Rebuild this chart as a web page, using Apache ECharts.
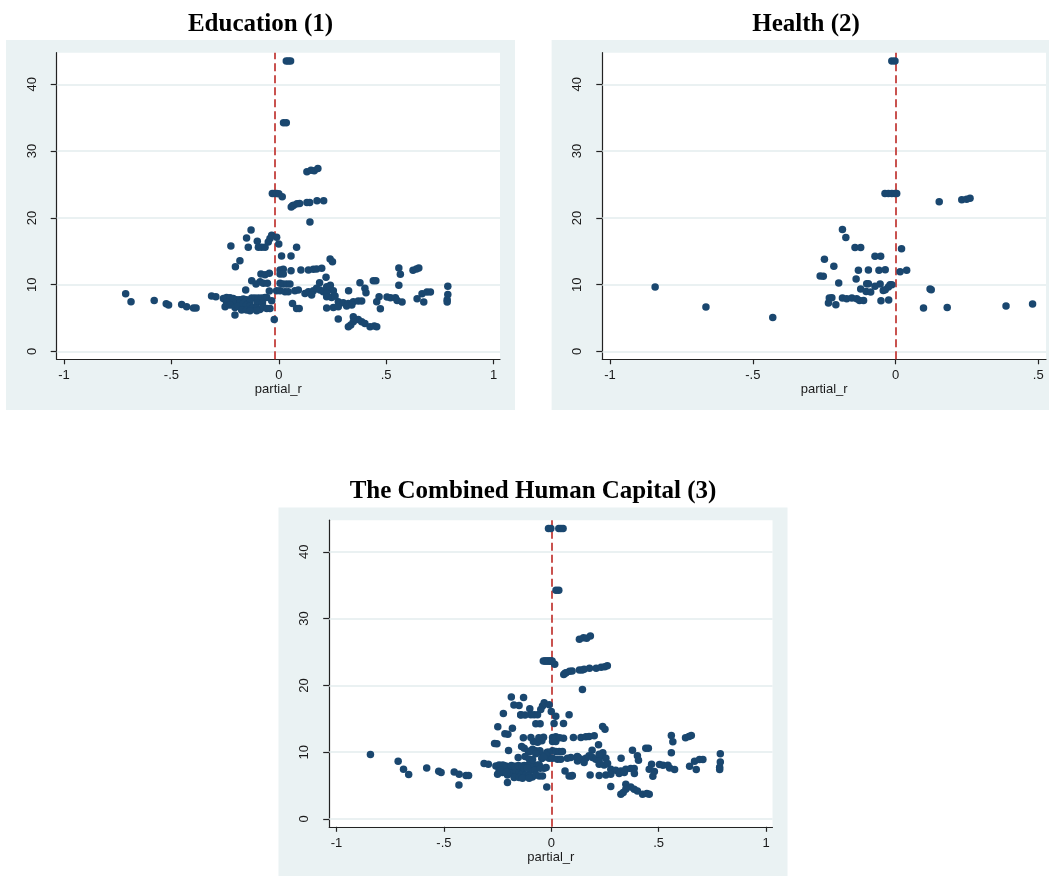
<!DOCTYPE html>
<html>
<head>
<meta charset="utf-8">
<script src="https://cdn.jsdelivr.net/npm/echarts@6/dist/echarts.min.js"></script>
<style>
html,body{margin:0;padding:0;background:#fff;}
#c{width:1049px;height:876px;}
</style>
</head>
<body>
<div id="c"></div>
<script>
// ---- data ----
const panelTitles = ['Education (1)', 'Health (2)', 'The Combined Human Capital (3)'];
const xTicksWide = [-1, -0.5, 0, 0.5, 1];
const xTicksHealth = [-1, -0.5, 0, 0.5];
const yTicks = [0, 10, 20, 30, 40];
const refLineX = [-0.016, 0, 0];

const educationPoints = [
  [0.035,43.5],[0.045,43.5],[0.055,43.5],
  [0.022,34.25],[0.035,34.25],
  [0.131,26.9],[0.15,27.15],[0.165,27.05],[0.182,27.4],
  [-0.03,23.65],[-0.02,23.65],[-0.01,23.65],[0.0,23.6],[0.016,23.15],
  [0.058,21.65],[0.064,21.8],[0.069,21.9],[0.085,22.1],[0.097,22.15],[0.131,22.3],[0.144,22.3],[0.178,22.55],[0.209,22.55],
  [0.145,19.4],
  [-0.129,18.2],[-0.15,17.0],[-0.033,17.4],[-0.041,16.9],[-0.1,16.5],[-0.049,16.4],[-0.01,17.1],[0.0,16.1],
  [-0.223,15.8],[-0.142,15.6],[-0.095,15.6],[-0.08,15.6],[-0.064,15.6],[0.083,15.6],
  [0.013,14.3],[0.057,14.3],
  [-0.181,13.6],[-0.202,12.7],[0.239,13.85],[0.25,13.45],
  [-0.083,11.6],[-0.064,11.5],[-0.044,11.7],[0.006,12.2],[0.021,12.3],[0.006,11.6],[0.021,11.6],[0.057,12.1],[0.103,12.2],[0.138,12.2],[0.161,12.3],[0.176,12.35],[0.2,12.45],
  [0.22,11.1],
  [0.559,12.5],[0.566,11.55],[0.625,12.15],[0.641,12.35],[0.652,12.5],
  [-0.126,10.6],[-0.106,10.1],[-0.087,10.45],[-0.072,10.2],[-0.053,10.2],[0.006,10.2],[0.021,10.1],[0.037,10.1],[0.052,10.1],[0.19,10.3],[0.24,9.9],
  [0.378,10.3],[0.44,10.6],[0.452,10.6],[0.559,9.9],[0.787,9.75],
  [-0.154,9.2],[-0.044,9.05],[-0.01,9.1],[0.006,9.1],[0.029,8.95],[0.044,8.95],[0.075,9.1],[0.091,9.2],
  [0.122,8.7],[0.138,8.95],[0.161,9.1],[0.176,9.45],[0.192,9.2],[0.207,8.95],[0.223,9.7],[0.238,9.45],[0.254,9.1],[0.223,8.7],
  [0.153,8.45],[0.223,8.2],[0.246,8.1],[0.262,8.3],
  [0.325,9.1],[0.401,9.45],[0.406,8.8],
  [0.667,8.65],[0.69,8.9],[0.706,8.9],[0.787,8.55],
  [-0.713,8.65],[-0.313,8.3],[-0.293,8.2],
  [-0.258,7.95],[-0.243,8.1],[-0.227,8.05],[-0.212,7.95],[-0.196,7.75],[-0.181,7.75],[-0.165,7.85],[-0.15,7.75],[-0.126,8.0],[-0.111,8.0],[-0.095,8.0],[-0.08,8.0],[-0.064,8.1],[-0.056,8.1],
  [-0.243,7.35],[-0.212,7.3],[-0.181,7.3],[-0.134,7.45],[-0.1,7.3],[-0.076,7.3],
  [-0.033,7.6],
  [0.504,8.15],[0.52,8.05],[0.543,8.05],[0.551,7.65],[0.467,8.2],
  [0.644,7.9],[0.784,7.75],
  [-0.688,7.45],[-0.58,7.65],[-0.524,7.15],[-0.513,6.95],[-0.452,7.05],[-0.429,6.7],[-0.397,6.5],[-0.385,6.5],
  [-0.25,6.7],[-0.227,6.95],[-0.204,6.6],[-0.188,6.8],
  [-0.165,7.2],[-0.15,6.95],[-0.134,6.8],[-0.119,6.6],[-0.103,6.45],[-0.088,6.3],[-0.072,6.6],[-0.056,6.45],[-0.041,6.45],
  [-0.173,6.2],[-0.15,6.2],[-0.134,6.1],[-0.103,6.1],
  [-0.204,5.45],[-0.021,4.8],
  [0.064,7.2],[0.083,6.45],[0.095,6.45],
  [0.277,7.45],[0.3,7.3],[0.324,7.2],[0.347,7.45],[0.37,7.55],[0.386,7.55],[0.456,7.45],
  [0.223,6.5],[0.254,6.6],[0.277,6.7],[0.316,6.8],[0.34,6.95],
  [0.473,6.4],[0.574,7.4],[0.675,7.4],[0.784,7.4],
  [0.277,4.85],[0.347,5.2],[0.37,4.8],[0.386,4.45],[0.401,4.2],[0.347,4.45],
  [0.324,3.7],[0.335,3.95],[0.425,3.7],[0.445,3.8],[0.456,3.7]
];

const healthPoints = [
  [-0.013,43.5],[-0.002,43.5],
  [-0.037,23.65],[-0.025,23.65],[-0.013,23.65],[-0.002,23.65],[0.004,23.65],
  [0.153,22.4],[0.232,22.7],[0.249,22.8],[0.261,22.95],
  [-0.186,18.25],[-0.174,17.05],[-0.142,15.55],[-0.122,15.55],[0.021,15.4],
  [-0.072,14.25],[-0.052,14.25],[-0.249,13.8],[-0.216,12.75],
  [-0.13,12.15],[-0.095,12.2],[-0.058,12.15],[-0.036,12.25],[0.016,11.95],[0.039,12.15],
  [-0.264,11.3],[-0.253,11.25],[-0.138,10.85],[-0.199,10.25],
  [-0.101,10.15],[-0.095,10.15],[-0.054,10.1],[-0.072,9.75],[-0.019,10.0],[-0.013,10.0],[-0.025,9.65],
  [-0.122,9.35],[-0.103,9.0],[-0.087,8.9],[-0.043,9.15],[-0.036,9.25],
  [0.121,9.35],[0.125,9.25],
  [-0.842,9.65],
  [-0.232,8.0],[-0.223,8.05],[-0.235,7.25],
  [-0.186,8.0],[-0.171,7.9],[-0.153,8.0],[-0.136,7.9],[-0.126,7.65],[-0.112,7.65],
  [-0.209,7.0],[-0.051,7.6],[-0.024,7.7],
  [-0.664,6.65],[-0.43,5.1],[0.098,6.5],[0.181,6.6],[0.387,6.8],[0.48,7.1]
];

// the combined sample pools both groups of observations
const combinedPoints = educationPoints.concat(healthPoints);

// ---- styling / layout ----
const BG = '#EAF2F3';
const GRID_LINE = '#E3ECEE';
const MARKER = '#1A476F';
const REF = '#C9524F';
const TXT = '#1a1a1a';
const FONT = 'Liberation Sans';

const grids = [
  {left: 56.7, top: 52.7, width: 443.3, height: 306.6},
  {left: 602.3, top: 52.7, width: 443.7, height: 306.6},
  {left: 329.2, top: 520.2, width: 443.3, height: 306.6}
];
const xRanges = [[-1.034, 1.030], [-1.027, 0.527], [-1.034, 1.030]];
const yRange = [-1.168, 44.73];
const xTickSets = [xTicksWide, xTicksHealth, xTicksWide];
const dataSets = [educationPoints, healthPoints, combinedPoints];
const bgBoxes = [[6, 40, 509, 370], [551.6, 40, 509, 370], [278.5, 507.5, 509, 370]];
const titlePos = [[260.5, 12], [806, 12], [533, 479.5]];

function fmtX(v) {
  if (v === 0) return '0';
  return String(v).replace('0.', '.');
}

const option = {
  animation: false,
  backgroundColor: '#fff',
  textStyle: {fontFamily: FONT},
  title: panelTitles.map((t, i) => ({
    text: t,
    left: titlePos[i][0],
    top: titlePos[i][1],
    textAlign: 'center',
    padding: 0,
    textStyle: {fontFamily: 'Liberation Serif', fontWeight: 'bold', fontSize: 25, color: '#000'}
  })),
  graphic: bgBoxes.map(b => ({
    type: 'rect', z: -10, silent: true,
    shape: {x: b[0], y: b[1], width: b[2], height: b[3]},
    style: {fill: BG}
  })),
  grid: grids.map(g => Object.assign({show: true, backgroundColor: '#fff', borderWidth: 0, containLabel: false}, g)),
  xAxis: grids.map((g, i) => ({
    type: 'value', gridIndex: i,
    min: xRanges[i][0], max: xRanges[i][1],
    name: 'partial_r', nameLocation: 'middle', nameGap: 22,
    nameTextStyle: {fontSize: 13, color: TXT, fontFamily: FONT},
    axisLine: {show: true, onZero: false, lineStyle: {color: '#222', width: 1.2}},
    axisTick: {show: true, length: 5, customValues: xTickSets[i], lineStyle: {color: '#222', width: 1.2}},
    axisLabel: {show: true, customValues: xTickSets[i], formatter: fmtX, margin: 10, fontSize: 13, color: TXT, fontFamily: FONT},
    splitLine: {show: false}
  })),
  yAxis: grids.map((g, i) => ({
    type: 'value', gridIndex: i,
    min: yRange[0], max: yRange[1],
    axisLine: {show: true, onZero: false, lineStyle: {color: '#222', width: 1.2}},
    axisTick: {show: true, length: 6, customValues: yTicks, lineStyle: {color: '#222', width: 1.2}},
    axisLabel: {show: true, customValues: yTicks, rotate: 90, margin: 18, fontSize: 13, color: TXT, fontFamily: FONT},
    splitLine: {show: false}
  })),
  series: dataSets.map((d, i) => ({
    type: 'scatter', xAxisIndex: i, yAxisIndex: i,
    data: d, symbol: 'circle', symbolSize: 7.5, z: 3,
    itemStyle: {color: MARKER, opacity: 1},
    markLine: {
      silent: true, symbol: 'none', z: 1, animation: false,
      label: {show: false},
      emphasis: {disabled: true},
      data: yTicks.map(v => ({yAxis: v, lineStyle: {color: GRID_LINE, width: 1.5, type: 'solid'}}))
        .concat([{xAxis: refLineX[i], lineStyle: {color: REF, width: 2, type: [8, 4]}}])
    }
  }))
};

const chart = echarts.init(document.getElementById('c'), null, {renderer: 'canvas'});
chart.setOption(option);
</script>
</body>
</html>
